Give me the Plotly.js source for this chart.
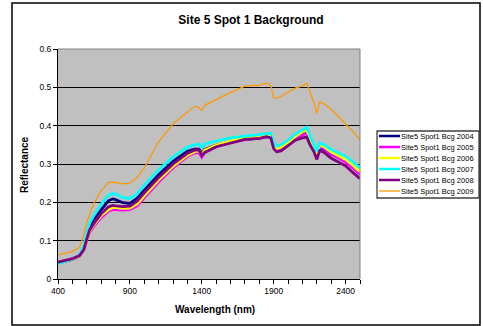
<!DOCTYPE html>
<html>
<head>
<meta charset="utf-8">
<script src="https://cdn.plot.ly/plotly-3.0.1.min.js"></script>
<style>
html,body{margin:0;padding:0;background:#fff;}
#chart{width:483px;height:326px;}
</style>
</head>
<body>
<div id="chart"></div>
<script>
var wavelength = [400,450,500,550,580,600,620,650,700,750,780,800,850,900,950,1000,1100,1200,1300,1350,1380,1400,1420,1500,1600,1700,1800,1850,1880,1900,1920,1950,2000,2050,2100,2130,2150,2180,2200,2220,2250,2300,2350,2400,2450,2500];

var bcg2004 = [.042,.046,.051,.060,.080,.112,.138,.157,.182,.204,.209,.207,.199,.197,.210,.232,.272,.307,.333,.339,.339,.328,.338,.349,.358,.364,.367,.372,.371,.348,.337,.338,.350,.366,.378,.382,.364,.342,.320,.342,.338,.325,.318,.307,.293,.277];
var bcg2005 = [.043,.047,.052,.060,.076,.100,.122,.138,.160,.177,.181,.181,.180,.181,.191,.212,.253,.290,.320,.329,.330,.318,.330,.345,.356,.364,.368,.373,.372,.345,.336,.340,.352,.367,.376,.380,.362,.340,.320,.345,.340,.325,.316,.305,.290,.273];
var bcg2006 = [.043,.047,.052,.060,.077,.102,.125,.142,.165,.181,.186,.186,.184,.185,.196,.217,.258,.294,.323,.332,.334,.325,.336,.349,.360,.370,.373,.377,.376,.350,.340,.344,.356,.372,.384,.388,.370,.346,.326,.350,.345,.331,.322,.312,.297,.280];
var bcg2007 = [.040,.046,.052,.063,.088,.120,.146,.166,.195,.218,.223,.222,.212,.210,.222,.245,.285,.318,.344,.350,.352,.343,.352,.360,.368,.373,.377,.380,.380,.356,.346,.350,.362,.378,.390,.396,.376,.352,.333,.355,.350,.338,.330,.320,.306,.290];
var bcg2008 = [.044,.048,.053,.061,.077,.104,.128,.145,.170,.188,.192,.191,.189,.190,.203,.225,.265,.300,.328,.336,.337,.322,.330,.345,.355,.364,.367,.371,.368,.340,.332,.334,.348,.362,.368,.370,.352,.332,.312,.335,.330,.315,.305,.295,.278,.262];
var bcg2009 = [.063,.068,.072,.082,.115,.148,.170,.198,.230,.252,.253,.251,.248,.250,.265,.290,.358,.405,.437,.451,.447,.440,.453,.468,.487,.503,.506,.511,.505,.473,.472,.476,.486,.498,.504,.510,.490,.460,.433,.462,.457,.442,.424,.405,.385,.363];

var seriesNames = ["Site5 Spot1 Bcg 2004","Site5 Spot1 Bcg 2005","Site5 Spot1 Bcg 2006","Site5 Spot1 Bcg 2007","Site5 Spot1 Bcg 2008","Site5 Spot1 Bcg 2009"];
var seriesValues = [bcg2004,bcg2005,bcg2006,bcg2007,bcg2008,bcg2009];
var seriesColors = ["#000080","#ff00ff","#ffff00","#00ffff","#800080","#ff9900"];
var seriesWidths = [2.8,2.8,2.8,2.8,2.8,1.3];

var xTickVals = [400,900,1400,1900,2400];
var yTickVals = [0,0.1,0.2,0.3,0.4,0.5,0.6];

var traces = seriesNames.map(function(n,i){
  return {x: wavelength, y: seriesValues[i], name: n, type: 'scatter', mode: 'lines',
          line: {color: seriesColors[i], width: seriesWidths[i]}};
});

// plot area in pixels: left 58, right 360, top 49, bottom 279
var L=58, R=360, T=49, B=279;
function px(x){return (x-L)/(R-L);}
function py(y){return (B-y)/(B-T);}

var shapes = [
  {type:'rect', xref:'paper', yref:'paper', x0:px(12), x1:px(480), y0:py(325), y1:py(3), line:{color:'#000', width:1.5}},
  {type:'line', xref:'paper', yref:'paper', x0:0, x1:1, y0:1, y1:1, line:{color:'#808080', width:1}},
  {type:'line', xref:'paper', yref:'paper', x0:1, x1:1, y0:0, y1:1, line:{color:'#808080', width:1}},
  {type:'rect', xref:'paper', yref:'paper', x0:px(377), x1:px(479), y0:py(198), y1:py(131), line:{color:'#404040', width:1.3}, fillcolor:'#fff'}
];
var annotations = [
  {text:'<b>Wavelength (nm)</b>', xref:'paper', yref:'paper', x:px(215), y:py(309), showarrow:false, xanchor:'center', yanchor:'middle', font:{family:'Liberation Sans, Arial, sans-serif', size:10, color:'#000'}},
  {text:'<b>Reflectance</b>', xref:'paper', yref:'paper', x:px(24), y:py(165), showarrow:false, textangle:-90, xanchor:'center', yanchor:'middle', font:{family:'Liberation Sans, Arial, sans-serif', size:10, color:'#000'}}
];
seriesNames.forEach(function(n,i){
  var yy = 136 + i*11;
  shapes.push({type:'line', xref:'paper', yref:'paper', x0:px(379), x1:px(400), y0:py(yy), y1:py(yy), line:{color:seriesColors[i], width: i<5 ? 2.5 : 1.3}});
  annotations.push({text:n, xref:'paper', yref:'paper', x:px(399), y:py(yy), showarrow:false, xanchor:'left', yanchor:'middle', font:{family:'Liberation Sans, Arial, sans-serif', size:7.5, color:'#000'}});
});

var layout = {
  width:483, height:326,
  margin:{l:L, r:483-R, t:T, b:326-B, pad:0},
  paper_bgcolor:'#fff', plot_bgcolor:'#c0c0c0',
  showlegend:false,
  font:{family:'Liberation Sans, Arial, sans-serif', size:8.5, color:'#000'},
  title:{text:'<b>Site 5 Spot 1 Background</b>', xref:'container', yref:'container', x:251/483, y:1-20/326, xanchor:'center', yanchor:'middle', font:{family:'Liberation Sans, Arial, sans-serif', size:12, color:'#000'}},
  xaxis:{range:[400,2500], tickvals:xTickVals, ticks:'outside', ticklen:4, tickcolor:'#000', showline:true, linecolor:'#000', linewidth:1, showgrid:false, zeroline:false,
         minor:{ticks:'outside', dtick:100, tick0:400, ticklen:4, tickcolor:'#000', showgrid:false}},
  yaxis:{range:[0,0.6], tickvals:yTickVals, ticks:'outside', ticklen:4, tickcolor:'#000', showline:true, linecolor:'#000', linewidth:1, showgrid:true, gridcolor:'#000', gridwidth:1, zeroline:false},
  shapes:shapes, annotations:annotations
};

Plotly.newPlot('chart', traces, layout, {staticPlot:true, displayModeBar:false});
</script>
</body>
</html>
